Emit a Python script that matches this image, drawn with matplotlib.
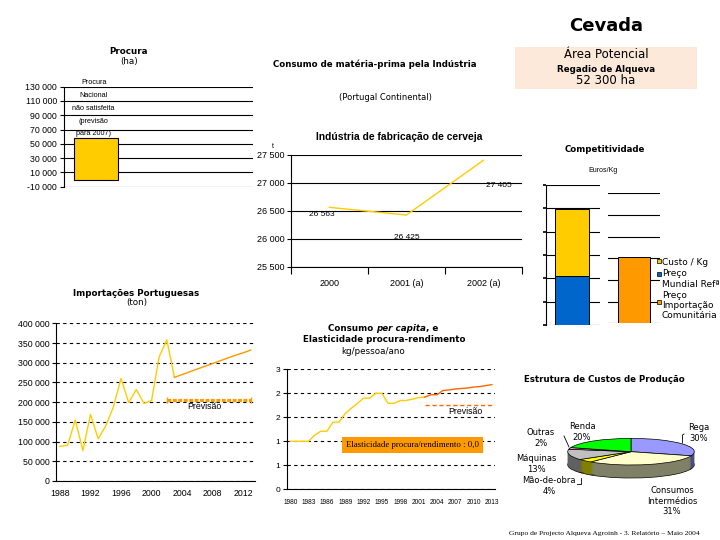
import numpy as np
import matplotlib
matplotlib.use('Agg')
import matplotlib.pyplot as plt
from matplotlib.patches import Rectangle
from matplotlib.lines import Line2D
from matplotlib.ticker import FuncFormatter

W, H = 720, 540
NARROW = ['Liberation Sans', 'DejaVu Sans']
SERIF = ['Liberation Serif', 'DejaVu Serif']

# ---------------------------------------------------------------- data
procura_val = [58000]
procura_lab = 'Procura\nNacional\nnão satisfeita\n(previsão\npara 2007)'

ind_cats = ['2000', '2001 (a)', '2002 (a)']
ind_vals = [26563, 26425, 27405]
ind_labs = ['26 563', '26 425', '27 405']

comp_custo = [0.145]
comp_mundial = [0.104]
comp_import = [0.154]
comp_labels = ['Custo / Kg', 'Preço\nMundial Refª', 'Preço\nImportação\nComunitária']

imp_anos = list(range(1988, 2004))
imp_vals = [88000, 90500, 155000, 77000, 169000, 107000, 140000, 188000,
            260000, 199000, 232000, 197000, 204000, 315000, 358000, 263000]
imp_prev_anos = list(range(2003, 2014))
imp_prev_vals = [263000, 270000, 277000, 284000, 291000, 298000, 305000,
                 312000, 319000, 325000, 332000]
imp_lim_x = [2002, 2013]
imp_lim_y = [205000, 205000]

cons_anos = list(range(1980, 2003))
cons_vals = [1.0, 1.0, 1.0, 1.0, 1.13, 1.21, 1.21, 1.40, 1.40, 1.58, 1.69, 1.79,
             1.90, 1.90, 2.0, 2.0, 1.79, 1.79, 1.85, 1.85, 1.88, 1.91, 1.92]
cons_prev_anos = list(range(2002, 2014))
cons_prev_vals = [1.92, 1.97, 1.97, 2.06, 2.07, 2.09, 2.10, 2.11, 2.13, 2.14, 2.16, 2.18]
cons_lim_x = [2002, 2013]
cons_lim_y = [1.76, 1.76]

pie_names = ['Rega', 'Consumos\nIntermédios', 'Mão-de-obra', 'Máquinas', 'Outras', 'Renda']
pie_vals = [30, 31, 4, 13, 2, 20]
pie_top = ['#9999FF', '#FFFFCC', '#FFFF00', '#C0C0C0', '#FF99CC', '#00FF00']
pie_side = ['#4C4C80', '#808066', '#808000', '#606060', '#804C66', '#008000']
pie_pos = [(699, 433), (672, 501), (549, 486), (536, 464), (541, 438), (582, 432)]

YEL = '#FFCC00'
ORA = '#FF9900'


def add_ax(l, t, r, b):
    return fig.add_axes([l / W, 1 - b / H, (r - l) / W, (b - t) / H])


def ftext(x, y, s, **kw):
    return fig.text(x / W, 1 - y / H, s, **kw)


def fline(xs, ys, **kw):
    fig.add_artist(Line2D([x / W for x in xs], [1 - y / H for y in ys],
                          transform=fig.transFigure, **kw))


def frect(l, t, r, b, **kw):
    fig.add_artist(Rectangle((l / W, 1 - b / H), (r - l) / W, (b - t) / H,
                             transform=fig.transFigure, **kw))


def spaced(v, pos=None):
    return f'{v:,.0f}'.replace(',', ' ')


fig = plt.figure(figsize=(7.2, 5.4), dpi=100)
fig.patch.set_facecolor('white')

# ---------------------------------------------------------------- header
ftext(606, 26, 'Cevada', ha='center', va='center', fontsize=13, weight='bold')
frect(515, 46.7, 696.7, 89.3, facecolor='#FDE9D9', edgecolor='none')
ftext(606, 55, 'Área Potencial', ha='center', va='center', fontsize=8.5)
ftext(606, 69, 'Regadio de Alqueva', ha='center', va='center', fontsize=6.3, weight='bold')
ftext(606, 81, '52 300 ha', ha='center', va='center', fontsize=8.5)

# ---------------------------------------------------------------- Procura
ftext(129, 51, 'Procura', ha='center', va='center', fontsize=6.3, weight='bold')
ftext(129, 61.5, '(ha)', ha='center', va='center', fontsize=6.3)
ax = add_ax(64, 86.7, 253, 186.7)
ax.set_ylim(-10000, 130000)
ax.set_yticks(np.arange(-10000, 130001, 20000))
ax.yaxis.set_major_formatter(FuncFormatter(spaced))
ax.set_xlim(-0.72, 3.55)
ax.set_xticks([])
ax.yaxis.grid(True, color='black', lw=0.8)
ax.set_axisbelow(True)
for s in ['top', 'right', 'bottom']:
    ax.spines[s].set_visible(False)
ax.tick_params(axis='y', length=3, pad=2, labelsize=6.3)
for t in ax.get_yticklabels():
    t.set_family(NARROW)
ax.bar([0], procura_val, width=1, color=YEL, edgecolor='black', lw=0.8)
ax.annotate(procura_lab, xy=(-0.05, procura_val[0]), xytext=(0, 0.5), textcoords='offset points',
            ha='center', va='bottom', fontsize=5.2, family=NARROW, linespacing=2.15)

# ---------------------------------------------------------------- Industria
ftext(375, 64, 'Consumo de matéria-prima pela Indústria', ha='center', va='center',
      fontsize=6.2, weight='bold')
ftext(385, 97, '(Portugal Continental)', ha='center', va='center', fontsize=6)
ftext(399, 137, 'Indústria de fabricação de cerveja', ha='center', va='center',
      fontsize=7.4, weight='bold', family=NARROW)
ftext(273, 146, 't', ha='center', va='center', fontsize=5, family=NARROW)
ax = add_ax(290.7, 155, 522, 266.7)
ax.set_ylim(25500, 27500)
ax.set_yticks(np.arange(25500, 27501, 500))
ax.yaxis.set_major_formatter(FuncFormatter(spaced))
ax.set_xlim(-0.5, 2.5)
ax.set_xticks([0, 1, 2], ind_cats)
ax.set_xticks([-0.5, 0.5, 1.5, 2.5], minor=True)
ax.tick_params(axis='x', which='major', length=0, pad=9, labelsize=6.5)
ax.tick_params(axis='x', which='minor', length=5, width=0.8)
ax.tick_params(axis='y', length=3, pad=1.5, labelsize=6.5)
for t in ax.get_yticklabels() + ax.get_xticklabels():
    t.set_family(NARROW)
ax.yaxis.grid(True, color='black', lw=0.8)
ax.set_axisbelow(True)
for s in ['top', 'right']:
    ax.spines[s].set_visible(False)
ax.plot([0, 1, 2], ind_vals, color=YEL, lw=1)
for i, (v, lab) in enumerate(zip(ind_vals, ind_labs)):
    off = [(-7, -7), (0, -22), (15, -25)][i]
    ax.annotate(lab, xy=(i, v), xytext=off, textcoords='offset pixels',
                ha='center', va='center', fontsize=6, family=NARROW)

# ---------------------------------------------------------------- Competitividade
ftext(605, 150, 'Competitividade', ha='center', va='center', fontsize=6.2, weight='bold')
ftext(603, 171, 'Euros/Kg', ha='center', va='center', fontsize=5, family=NARROW)
ax = add_ax(546, 185, 600, 325)
ax.set_ylim(0, 0.30)
ax.set_yticks(np.arange(0, 0.301, 0.05))
ax.set_yticklabels(['' for _ in range(7)])
ax.set_xlim(-0.77, 0.83)
ax.set_xticks([])
ax.yaxis.grid(True, color='black', lw=0.8)
ax.set_axisbelow(True)
ax.tick_params(axis='y', length=2, width=1.2)
for s in ['top', 'right', 'bottom']:
    ax.spines[s].set_visible(False)
ax.bar([0], comp_mundial, width=1, color='#0066CC', edgecolor='black', lw=0.7)
ax.bar([0], comp_custo, bottom=comp_mundial, width=1, color=YEL, edgecolor='black', lw=0.7)

ax = add_ax(608, 193.3, 660, 323.3)
ax.set_ylim(0, 0.30)
ax.set_yticks(np.arange(0, 0.301, 0.05))
ax.set_xlim(-0.3, 1.3)
ax.set_xticks([])
ax.set_yticklabels([])
ax.tick_params(axis='y', length=0)
ax.yaxis.grid(True, color='black', lw=0.8)
ax.set_axisbelow(True)
for s in ax.spines.values():
    s.set_visible(False)
ax.bar([0.5], comp_import, width=1, color=ORA, edgecolor='black', lw=0.7)

for col, lab, sy, ty in zip([YEL, '#0066CC', ORA], comp_labels,
                            [260.7, 274, 302.3], [258, 269.5, 291]):
    frect(656.5, sy - 2, 660.5, sy + 2, facecolor=col, edgecolor='black', lw=0.5)
    ftext(662, ty, lab, ha='left', va='top', fontsize=6.5, linespacing=1.15)

# ---------------------------------------------------------------- Importacoes
ftext(136, 293, 'Importações Portuguesas', ha='center', va='center', fontsize=6.3, weight='bold')
ftext(137, 303, '(ton)', ha='center', va='center', fontsize=6.3)
ax = add_ax(56.2, 323.3, 254.5, 481)
ax.set_ylim(0, 400000)
ax.set_yticks(np.arange(0, 400001, 50000))
ax.yaxis.set_major_formatter(FuncFormatter(spaced))
ax.set_xlim(1987.5, 2013.5)
ax.set_xticks(range(1988, 2013, 4))
ax.tick_params(axis='x', length=0, pad=6, labelsize=6.3)
ax.tick_params(axis='y', length=3, pad=1.5, labelsize=6.3)
for t in ax.get_yticklabels() + ax.get_xticklabels():
    t.set_family(NARROW)
ax.yaxis.grid(True, color='black', lw=0.8, ls=(0, (3, 3)))
ax.set_axisbelow(True)
for s in ['top', 'right']:
    ax.spines[s].set_visible(False)
ax.plot(imp_anos, imp_vals, color=YEL, lw=1)
ax.plot(imp_prev_anos, imp_prev_vals, color=ORA, lw=1)
ax.plot(imp_lim_x, imp_lim_y, color=ORA, lw=2.3, ls=(0, (1.2, 0.5)), marker='|', ms=4, mew=1)
ax.text(2006.9, 188000, 'Previsão', ha='center', va='center', fontsize=6.3, family=NARROW)

# ---------------------------------------------------------------- Consumo per capita
r = fig.canvas.get_renderer()
parts = [('Consumo ', 'normal'), ('per capita', 'italic'), (', e', 'normal')]
objs = []
x0 = 0
for txt, st in parts:
    t = ftext(x0, 328.5, txt, ha='left', va='center', fontsize=6.3, weight='bold', style=st)
    x0 += t.get_window_extent(r).width
    objs.append(t)
start = 383 - x0 / 2
for t in objs:
    px, py = t.get_position()
    t.set_x(px + start / W)
ftext(384, 339.5, 'Elasticidade procura-rendimento', ha='center', va='center',
      fontsize=6.3, weight='bold')
ftext(373, 351, 'kg/pessoa/ano', ha='center', va='center', fontsize=6.3)
ax = add_ax(287.2, 369.3, 494.9, 489.3)
ax.set_ylim(0, 2.5)
ax.set_yticks(np.arange(0, 2.51, 0.5))
ax.yaxis.set_major_formatter(FuncFormatter(lambda v, p: str(int(np.floor(v + 0.5)))))
ax.set_xlim(1979.5, 2013.5)
ax.set_xticks(range(1980, 2014, 3))
ax.tick_params(axis='x', length=0, pad=7, labelsize=4.7)
ax.tick_params(axis='y', length=3, pad=2, labelsize=6)
for t in ax.get_yticklabels() + ax.get_xticklabels():
    t.set_family(NARROW)
ax.yaxis.grid(True, color='black', lw=0.8, ls=(0, (3, 3)))
ax.set_axisbelow(True)
for s in ['top', 'right']:
    ax.spines[s].set_visible(False)
ax.plot(cons_anos, cons_vals, color=YEL, lw=1)
ax.plot(cons_prev_anos, cons_prev_vals, color='#FF6600', lw=1)
ax.plot(cons_lim_x, cons_lim_y, color='#FF6600', lw=1, ls=(0, (3, 2)))
ax.text(2008.6, 1.62, 'Previsão', ha='center', va='center', fontsize=6.3, family=NARROW)
frect(341.7, 437.3, 483.3, 452.7, facecolor=ORA, edgecolor='none')
ftext(412.5, 445, 'Elasticidade procura/rendimento : 0,0', ha='center', va='center',
      fontsize=6.3, family=SERIF)

# ---------------------------------------------------------------- Estrutura de custos
ftext(604, 380, 'Estrutura de Custos de Produção', ha='center', va='center',
      fontsize=6.2, weight='bold')
ax = add_ax(560, 430, 702, 490)
depth = 0.98
n = 16
for k in range(n, 0, -1):
    ax.pie(pie_vals, colors=pie_side, startangle=90, counterclock=False,
           center=(0, -depth * k / n),
           wedgeprops=dict(edgecolor='black' if k == n else 'none', linewidth=0.5))
ax.pie(pie_vals, colors=pie_top, startangle=90, counterclock=False,
       wedgeprops=dict(edgecolor='black', linewidth=0.5))
ax.set_aspect('auto')
ax.set_xlim(-1.122, 1.122)
ax.set_ylim(-2.88, 1.63)
ax.axis('off')
for name, v, (x, y) in zip(pie_names, pie_vals, pie_pos):
    ftext(x, y, f'{name}\n{v}%', ha='center', va='center', fontsize=6, linespacing=1.15)
fline([684, 682.5, 682.5], [434, 435, 443], color='black', lw=0.6)
fline([564, 569], [436, 447], color='black', lw=0.6)
fline([576.5, 581, 581], [484, 484, 478], color='black', lw=0.6)

ftext(604, 533, 'Grupo de Projecto Alqueva Agroinh - 3. Relatório – Maio 2004', ha='center',
      va='center', fontsize=5.4, family=SERIF)

fig.savefig('out.png', dpi=100)
